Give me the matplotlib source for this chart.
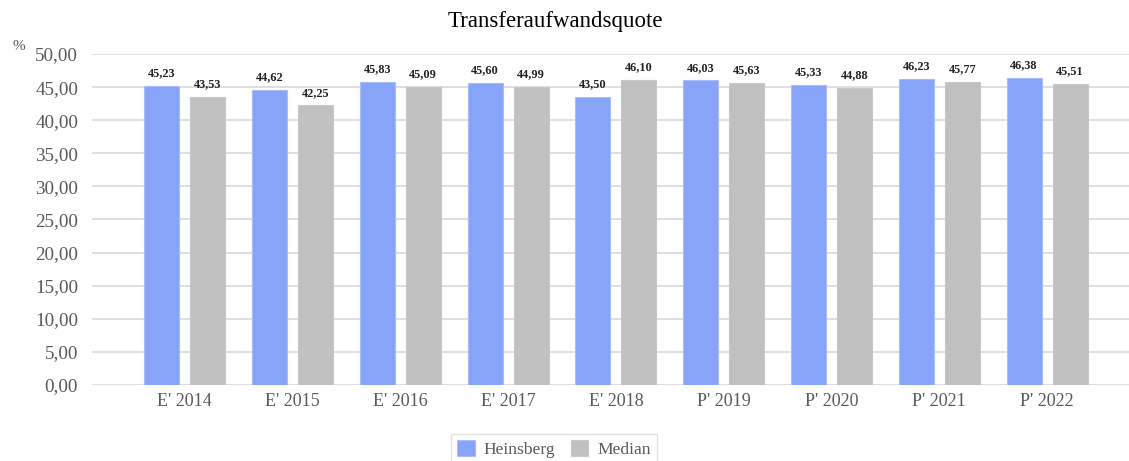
import numpy as np
import matplotlib.pyplot as plt

plt.rcParams['font.family'] = ['Liberation Serif', 'DejaVu Serif']

categories = ["E' 2014", "E' 2015", "E' 2016", "E' 2017", "E' 2018",
              "P' 2019", "P' 2020", "P' 2021", "P' 2022"]
heinsberg = [45.23, 44.62, 45.83, 45.60, 43.50, 46.03, 45.33, 46.23, 46.38]
median = [43.53, 42.25, 45.09, 44.99, 46.10, 45.63, 44.88, 45.77, 45.51]

def de(v):
    return f"{v:.2f}".replace(".", ",")

fig = plt.figure(figsize=(11.29, 4.61), dpi=100)
ax = fig.add_axes([92 / 1129, 76 / 461, 1 - 92 / 1129, 331 / 461])

x = np.arange(len(categories))
w = 0.325
off = 0.213
b1 = ax.bar(x - off, heinsberg, w, color="#88a4f8", edgecolor="#a9bdfa", linewidth=0.8,
            label="Heinsberg", zorder=3)
b2 = ax.bar(x + off, median, w, color="#c0c0c0", edgecolor="#c8c8c8", linewidth=0.8,
            label="Median", zorder=3)

for bars, vals in ((b1, heinsberg), (b2, median)):
    for r, v in zip(bars, vals):
        ax.text(r.get_x() + r.get_width() / 2, v + 1.0, de(v), ha="center", va="bottom",
                fontsize=8.8, fontweight="bold", color="#222222")

ax.set_xlim(-0.86, 8.76)
ax.set_ylim(0, 50)
ax.set_yticks(np.arange(0, 50.1, 5))
ax.set_yticklabels([de(v) for v in np.arange(0, 50.1, 5)])
ax.set_xticks(x)
ax.set_xticklabels(categories)
ax.tick_params(axis="both", length=0, labelsize=13, colors="#595959")
ax.tick_params(axis="y", pad=10, labelsize=13.8)
ax.tick_params(axis="x", pad=6)
ax.grid(axis="y", color="#d9d9d9", linewidth=1.2, zorder=0)
for s in ax.spines.values():
    s.set_visible(False)

fig.text(19 / 1129, 1 - 47 / 461, "%", fontsize=11, color="#595959", ha="center", va="center")
fig.text(555 / 1129, 1 - 21 / 461, "Transferaufwandsquote", fontsize=16.5, ha="center",
         va="center", color="#000000")

leg = fig.legend(loc="center", bbox_to_anchor=(554 / 1129, 1 - 449 / 461), ncol=2,
                 fontsize=12.6, frameon=True, fancybox=False, edgecolor="#d9d9d9",
                 handlelength=1.0, handleheight=1.0, columnspacing=0.9, handletextpad=0.5,
                 borderpad=0.35, borderaxespad=0)
for t in leg.get_texts():
    t.set_color("#595959")

fig.savefig("out.png", dpi=100)
